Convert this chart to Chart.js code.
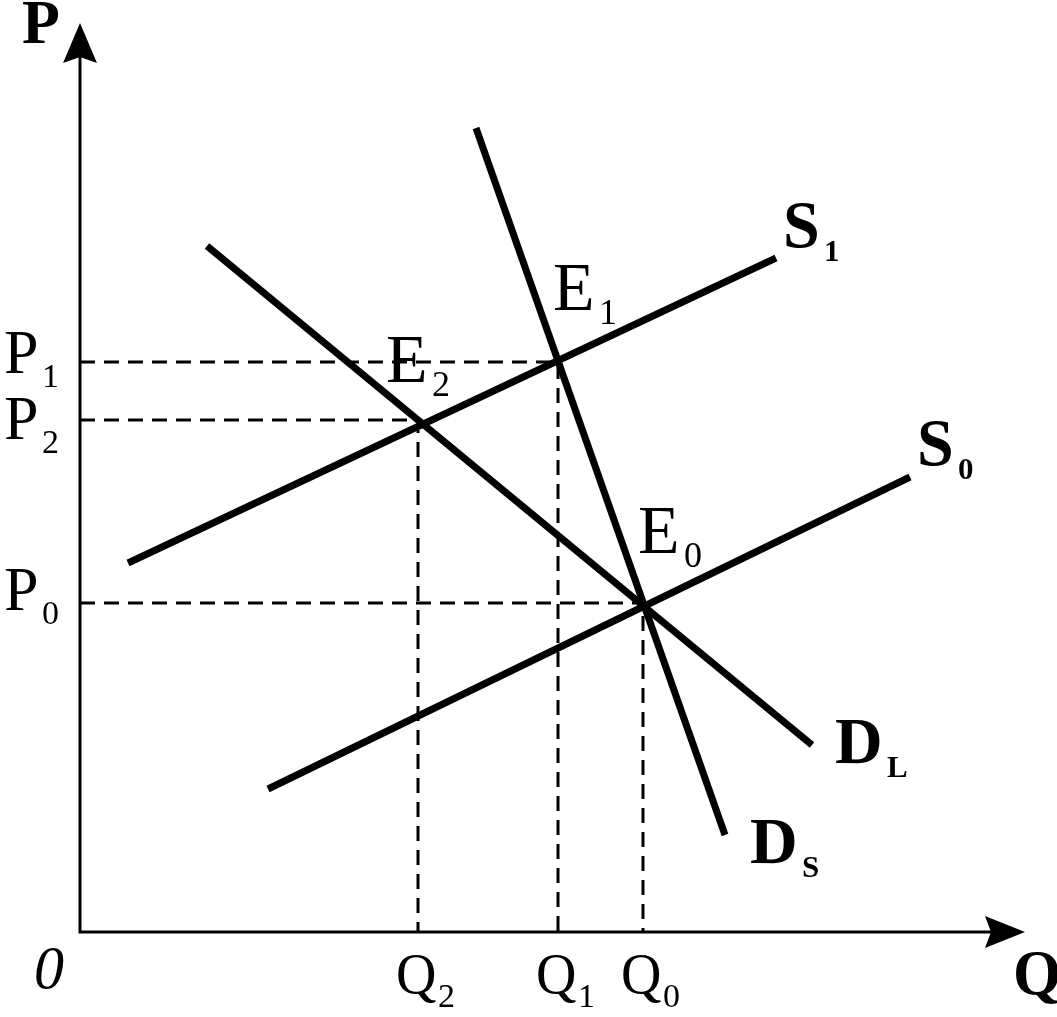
<!DOCTYPE html>
<html>
<head>
<meta charset="utf-8">
<script src="https://cdn.jsdelivr.net/npm/chart.js@4.4.1/dist/chart.umd.min.js"></script>
<style>
@font-face { font-family:'LibSerif'; font-weight:400; font-style:normal; src: local('Liberation Serif'), local('LiberationSerif'), local('Liberation Serif Regular'); }
@font-face { font-family:'LibSerif'; font-weight:700; font-style:normal; src: local('Liberation Serif Bold'), local('LiberationSerif-Bold'); }
@font-face { font-family:'LibSerif'; font-weight:400; font-style:italic; src: local('Liberation Serif Italic'), local('LiberationSerif-Italic'); }
body { margin:0; background:#fff; }
#wrap { width:1057px; height:1017px; }
</style>
</head>
<body>
<div id="wrap"><canvas id="grafico" width="1057" height="1017"></canvas></div>
<script>
// axis range (quantity, price)
const Q_MAX = 945;
const P_MAX = 909;

// curves: [q, p] end points
const curveNames = ['S', 'S', 'D', 'D'];
const curveSubs = ['1', '0', 'L', 'S'];
const curveQ = [[48, 696], [188, 830], [127, 732], [396, 645]];
const curveP = [[369, 674], [143, 455], [686, 187], [804, 97]];

// equilibrium points
const eqNames = ['E', 'E', 'E'];
const eqSubs = ['1', '2', '0'];
const eqQ = [478, 338, 563];
const eqP = [570, 512, 329];

// axis tick labels
const priceLabels = ['P', 'P', 'P'];
const quantityLabels = ['Q', 'Q', 'Q'];

// label layout (pixels)
const curveLabelOff = [[7, -11], [7, -12], [23, 18], [25, 28]];
const eqLabelOff = [[-5, -52], [-32, -38], [-5, -50]];
const priceLabelOff = [11, 19, 7];

const SERIF = 'LibSerif, "Liberation Serif", serif';

const datasets = [];
curveQ.forEach((qs, i) => {
datasets.push({
label: curveNames[i] + curveSubs[i],
data: qs.map((q, k) => ({ x:q, y:curveP[i][k] })),
showLine:true,
borderColor:'#000',
borderWidth:7,
borderCapStyle:'butt',
pointRadius:0
});
});
eqQ.forEach((q, i) => {
datasets.push({
label: 'guide' + i,
data: [{ x:0, y:eqP[i] }, { x:q, y:eqP[i] }, { x:q, y:0 }],
showLine:true,
borderColor:'#000',
borderWidth:3,
borderDash:[15, 9],
borderCapStyle:'butt',
pointRadius:0
});
});

function subText(ctx, main, sub, x, y, size, subSize, weight, subDx, subDy) {
ctx.font = weight + ' ' + size + 'px ' + SERIF;
ctx.fillText(main, x, y);
const w = ctx.measureText(main).width;
ctx.font = weight + ' ' + subSize + 'px ' + SERIF;
ctx.fillText(sub, x + w + subDx, y + subDy);
}

const extras = {
id:'extras',
afterDatasetsDraw(chart) {
const { ctx, scales } = chart;
const xs = scales.x, ys = scales.y;
const x0 = xs.getPixelForValue(0), y0 = ys.getPixelForValue(0);
const xEnd = xs.getPixelForValue(Q_MAX), yEnd = ys.getPixelForValue(P_MAX);
ctx.save();
ctx.fillStyle = '#000';
ctx.strokeStyle = '#000';
// axes
ctx.lineWidth = 3;
ctx.beginPath();
ctx.moveTo(x0, yEnd + 30);
ctx.lineTo(x0, y0);
ctx.lineTo(xEnd - 30, y0);
ctx.stroke();
// arrow heads
ctx.beginPath();
ctx.moveTo(x0, yEnd);
ctx.lineTo(x0 - 17, yEnd + 40);
ctx.lineTo(x0, yEnd + 34);
ctx.lineTo(x0 + 17, yEnd + 40);
ctx.closePath();
ctx.fill();
ctx.beginPath();
ctx.moveTo(xEnd, y0);
ctx.lineTo(xEnd - 40, y0 - 16);
ctx.lineTo(xEnd - 34, y0);
ctx.lineTo(xEnd - 40, y0 + 16);
ctx.closePath();
ctx.fill();

ctx.textBaseline = 'alphabetic';
ctx.textAlign = 'left';
// axis titles
ctx.font = 'bold 62px ' + SERIF;
ctx.fillText('P', x0 - 58, yEnd + 20);
ctx.fillText('Q', xEnd - 12, y0 + 62);
ctx.font = 'italic 60px ' + SERIF;
ctx.fillText('0', x0 - 46, y0 + 56);

// price labels
eqP.forEach((p, i) => {
const py = ys.getPixelForValue(p);
subText(ctx, priceLabels[i], eqSubs[i], 4, py + priceLabelOff[i], 62, 34, 'normal', 4, 14);
});
// quantity labels
eqQ.forEach((q, i) => {
const px = xs.getPixelForValue(q);
subText(ctx, quantityLabels[i], eqSubs[i], px - 22, y0 + 61, 56, 34, 'normal', 2, 14);
});
// equilibrium labels
eqQ.forEach((q, i) => {
const px = xs.getPixelForValue(q), py = ys.getPixelForValue(eqP[i]);
subText(ctx, eqNames[i], eqSubs[i], px + eqLabelOff[i][0], py + eqLabelOff[i][1], 68, 36, 'normal', 4, 14);
});
// curve labels
curveQ.forEach((qs, i) => {
const px = xs.getPixelForValue(qs[1]), py = ys.getPixelForValue(curveP[i][1]);
subText(ctx, curveNames[i], curveSubs[i], px + curveLabelOff[i][0], py + curveLabelOff[i][1], 66, 31, 'bold', 4, 14);
});
ctx.restore();
}
};

function draw() {
new Chart(document.getElementById('grafico'), {
type:'scatter',
data:{ datasets },
options:{
responsive:false,
animation:false,
layout:{ padding:{ left:80, right:32, top:23, bottom:85 } },
plugins:{ legend:{ display:false }, tooltip:{ enabled:false } },
scales:{
x:{ type:'linear', min:0, max:Q_MAX, display:false },
y:{ type:'linear', min:0, max:P_MAX, display:false }
}
},
plugins:[extras]
});
}

Promise.all([
document.fonts.load('62px LibSerif'),
document.fonts.load('bold 62px LibSerif'),
document.fonts.load('italic 60px LibSerif')
]).then(draw, draw);
</script>
</body>
</html>
